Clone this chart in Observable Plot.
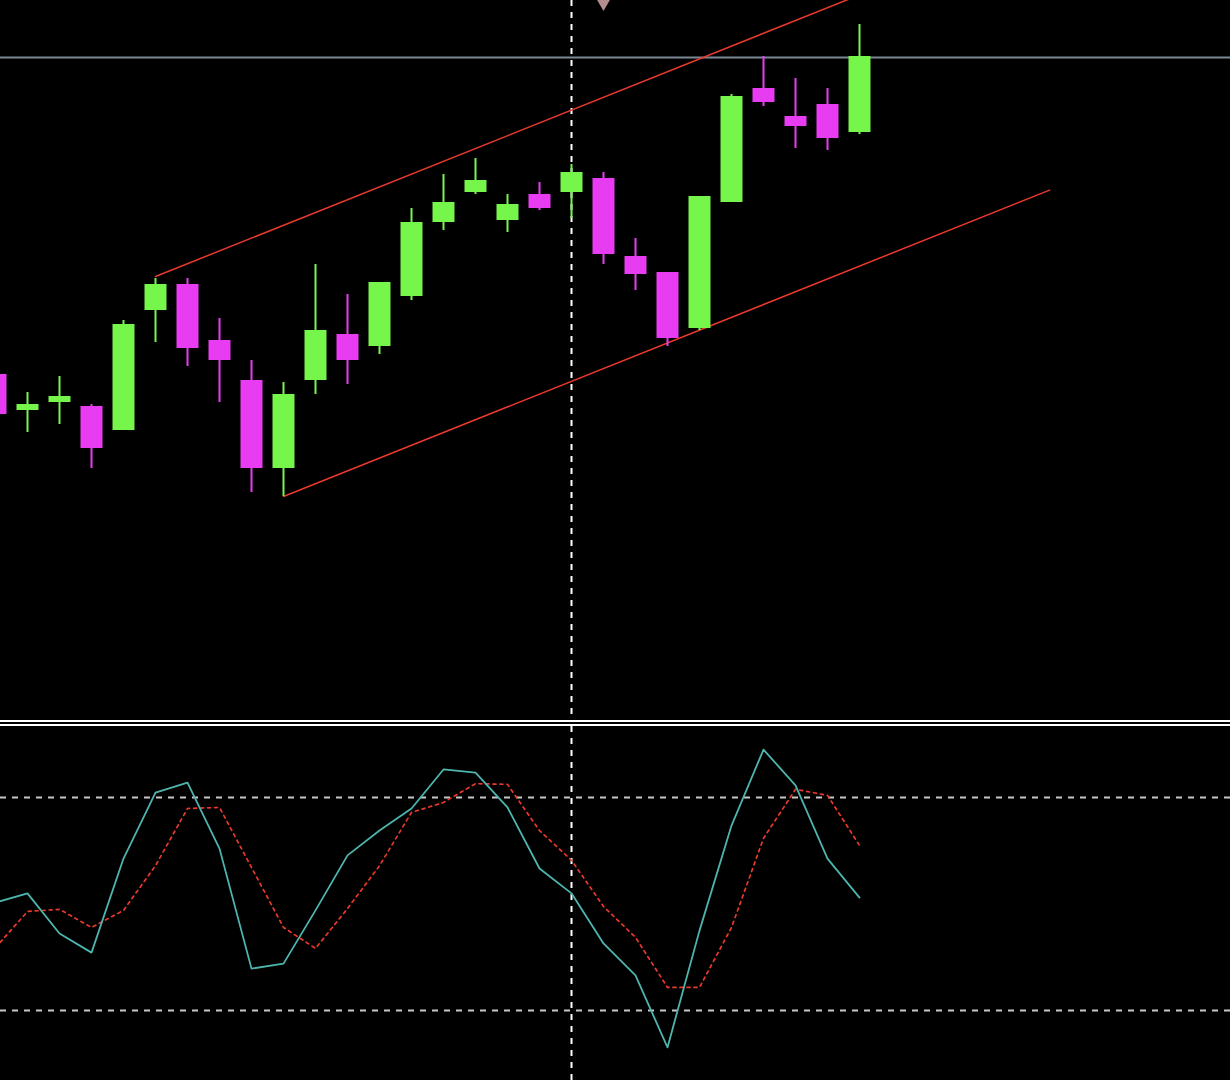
<!DOCTYPE html>
<html><head><meta charset="utf-8">
<script src="https://cdn.jsdelivr.net/npm/d3@7"></script>
<script src="https://cdn.jsdelivr.net/npm/@observablehq/plot@0.6"></script>
<style>
html,body{margin:0;padding:0;background:#000;}
#chart{width:1230px;height:1080px;overflow:hidden;background:#000;}
#chart svg{display:block;overflow:hidden;background:#000;}
#sep{height:0;border-top:6px double #ffffff;}
</style></head>
<body><div id="chart"><div id="topPanel"></div><div id="sep"></div><div id="bottomPanel"></div></div>
<script>
// bar index (0 = partly hidden bar at the left edge)
const bars  = [0,1,2,3,4,5,6,7,8,9,10,11,12,13,14,15,16,17,18,19,20,21,22,23,24,25,26,27];
// prices in chart points
const open  = [346,310,318,314,290,410,436,380,340,252,340,386,374,424,498,528,500,526,528,542,464,448,392,518,632,604,616,588];
const high  = [350,328,344,316,400,442,442,402,360,338,456,426,438,512,546,562,526,538,556,548,482,448,524,626,664,642,632,696];
const low   = [300,288,296,252,290,378,354,318,228,224,326,336,366,420,490,526,488,510,502,456,430,374,390,518,614,572,570,586];
const close = [306,316,324,272,396,436,372,360,252,326,390,360,438,498,518,540,516,512,548,466,446,382,524,624,618,594,582,664];
// stochastic oscillator
const stochMain   = [50.4,53.0,41.7,36.3,62.8,81.4,84.2,65.6,31.8,33.2,48.2,63.7,70.7,76.9,87.9,87.0,77.2,60.0,53.0,38.9,29.9,9.6,42.5,72.1,93.5,83.4,62.8,51.8];
const stochSignal = [37.7,47.9,48.5,43.4,48.2,60.8,76.9,77.2,60.3,43.4,37.5,48.7,60.8,75.8,78.6,83.9,83.7,70.7,62.3,49.3,40.6,26.5,26.5,43.4,68.5,82.3,80.6,66.5];
const levels = [20, 80];
// drawn objects
const hLevel = 663;               // horizontal price line
const cursorBar = 18;             // vertical dashed cursor
const arrowBar = 19, arrowPrice = 718;
const channelUpper = [{x:5, y:444}, {x:32.94, y:801.6}];
const channelLower = [{x:9, y:224}, {x:32.94, y:530.4}];

const GREEN = "#76f64b", MAGENTA = "#e83cf2";
const candles = bars.map((b,i) => ({b, o:open[i], h:high[i], l:low[i], c:close[i], up: close[i] >= open[i]}));
const osc = bars.map((b,i) => ({b, main: stochMain[i], signal: stochSignal[i]}));

const xScale = {type:"linear", domain:[5/32, 1235/32], range:[0,1230], axis:null};

const topPlot = Plot.plot({
  width:1230, height:720, margin:0,
  style:{background:"#000", overflow:"hidden"},
  x: xScale,
  y: {domain:[0,720], range:[720,0], axis:null},
  marks:[
    Plot.ruleY([hLevel], {stroke:"#7b8794", strokeWidth:2}),
    Plot.ruleX([cursorBar], {stroke:"#ffffff", strokeWidth:2, strokeDasharray:"6,6"}),
    Plot.line(channelUpper, {x:"x", y:"y", stroke:"#ea3a2c", strokeWidth:1.5, clip:true}),
    Plot.line(channelLower, {x:"x", y:"y", stroke:"#ea3a2c", strokeWidth:1.5, clip:true}),
    Plot.ruleX(candles, {x:"b", y1:"l", y2:"h", stroke: d => d.up ? GREEN : MAGENTA, strokeWidth:2, clip:true}),
    Plot.ruleX(candles, {x:"b", y1:"o", y2:"c", stroke: d => d.up ? GREEN : MAGENTA, strokeWidth:22, strokeLinecap:"butt", clip:true}),
    Plot.dot([{x:arrowBar, y:arrowPrice}], {x:"x", y:"y", symbol:"triangle", rotate:180, r:5.5, fill:"#b58c8c", stroke:"none", clip:true})
  ]
});
document.getElementById("topPanel").appendChild(topPlot);

const bottomPlot = Plot.plot({
  width:1230, height:355, margin:0,
  style:{background:"#000", overflow:"hidden"},
  x: xScale,
  y: {domain:[0,100], range:[355,0], axis:null},
  marks:[
    Plot.ruleY(levels, {stroke:"#c8c8c8", strokeWidth:2, strokeDasharray:"6,6"}),
    Plot.ruleX([cursorBar], {stroke:"#ffffff", strokeWidth:2, strokeDasharray:"6,6"}),
    Plot.line(osc, {x:"b", y:"signal", stroke:"#ea3a2c", strokeWidth:1.7, strokeDasharray:"3,4", clip:true}),
    Plot.line(osc, {x:"b", y:"main", stroke:"#4db5ae", strokeWidth:1.8, clip:true})
  ]
});
document.getElementById("bottomPanel").appendChild(bottomPlot);
</script>
</body></html>
